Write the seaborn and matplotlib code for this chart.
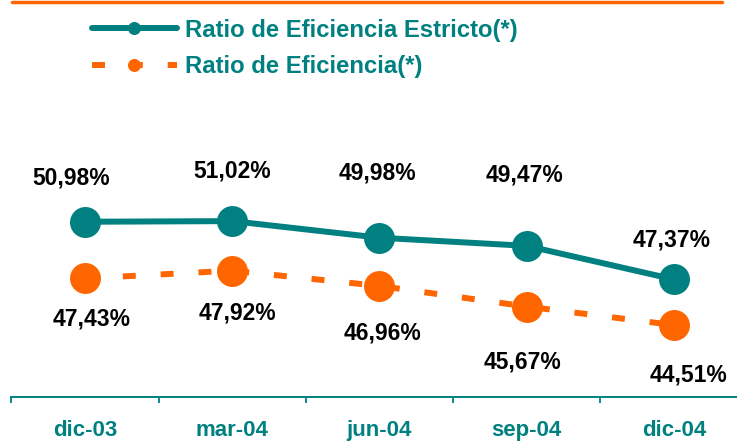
import numpy as np
import pandas as pd
import matplotlib
matplotlib.use("Agg")
import matplotlib.pyplot as plt
from matplotlib.lines import Line2D
import seaborn as sns

# datos
periodos = ["dic-03", "mar-04", "jun-04", "sep-04", "dic-04"]
ratio_estricto = [50.98, 51.02, 49.98, 49.47, 47.37]
ratio_eficiencia = [47.43, 47.92, 46.96, 45.67, 44.51]
serie_estricto = "Ratio de Eficiencia Estricto(*)"
serie_eficiencia = "Ratio de Eficiencia(*)"

# desplazamiento de las etiquetas (px: dx, dy hacia arriba)
off_estricto = [(-14, 44), (0, 50), (-2, 65), (-2, 71), (-2, 39)]
off_eficiencia = [(7, -41), (5, -42), (3, -47), (-4, -55), (15, -50)]

TEAL = "#008080"
ORANGE = "#FF6600"

sns.set_style("white")
plt.rcParams["font.family"] = ["Liberation Sans", "DejaVu Sans"]

df = pd.DataFrame({"pos": np.arange(len(periodos)),
                   "estricto": ratio_estricto,
                   "eficiencia": ratio_eficiencia})

fig = plt.figure(figsize=(7.37, 4.42), dpi=100)
ax = fig.add_axes([0.01547, 0.1016, 0.9989, 0.7226])

sns.lineplot(data=df, x="pos", y="estricto", ax=ax, color=TEAL, lw=4.3,
             marker="o", markersize=22.3, markeredgewidth=0, label=serie_estricto)
sns.lineplot(data=df, x="pos", y="eficiencia", ax=ax, color=ORANGE, lw=4.3,
             linestyle=(0, (2.17, 4.17)), marker="o", markersize=22.3,
             markeredgewidth=0, label=serie_eficiencia)

# etiquetas de valores
px = 0.72
for i, v in enumerate(ratio_estricto):
    dx, dy = off_estricto[i]
    ax.annotate(f"{v:.2f}%".replace(".", ","), (i, v), xytext=(dx * px, dy * px),
                textcoords="offset points", ha="center", va="center",
                fontsize=16.5, fontweight="bold", color="black")
for i, v in enumerate(ratio_eficiencia):
    dx, dy = off_eficiencia[i]
    ax.annotate(f"{v:.2f}%".replace(".", ","), (i, v), xytext=(dx * px, dy * px),
                textcoords="offset points", ha="center", va="center",
                fontsize=16.5, fontweight="bold", color="black")

ax.set_xlim(-0.5, len(periodos) - 0.5)
ax.set_ylim(40, 60)
ax.set_xlabel("")
ax.set_ylabel("")
ax.set_yticks([])
ax.set_xticks(df["pos"])
ax.set_xticklabels(periodos, fontsize=16, fontweight="bold", color=TEAL)
ax.set_xticks(np.arange(-0.5, len(periodos) + 0.5, 1), minor=True)
ax.tick_params(axis="x", which="major", bottom=True, length=0, pad=16.5)
ax.tick_params(axis="x", which="minor", bottom=True, length=4.5, width=1.3,
               color=TEAL, direction="out")
for s in ["top", "right", "left"]:
    ax.spines[s].set_visible(False)
ax.spines["bottom"].set_color(TEAL)
ax.spines["bottom"].set_linewidth(1.4)

ax.legend(loc="upper left", bbox_to_anchor=(91.7 / 737, 0.958),
          bbox_transform=fig.transFigure, frameon=False,
          prop={"size": 17.2, "weight": "bold"}, labelcolor=TEAL,
          handlelength=3.55, handletextpad=0.34, borderpad=0, borderaxespad=0,
          labelspacing=0.56, markerscale=0.42)

# linea naranja superior
fig.add_artist(Line2D([12 / 737, 722 / 737], [1 - 1.5 / 442] * 2,
                      color=ORANGE, lw=2.5, transform=fig.transFigure))

fig.savefig("out.png", dpi=100)
